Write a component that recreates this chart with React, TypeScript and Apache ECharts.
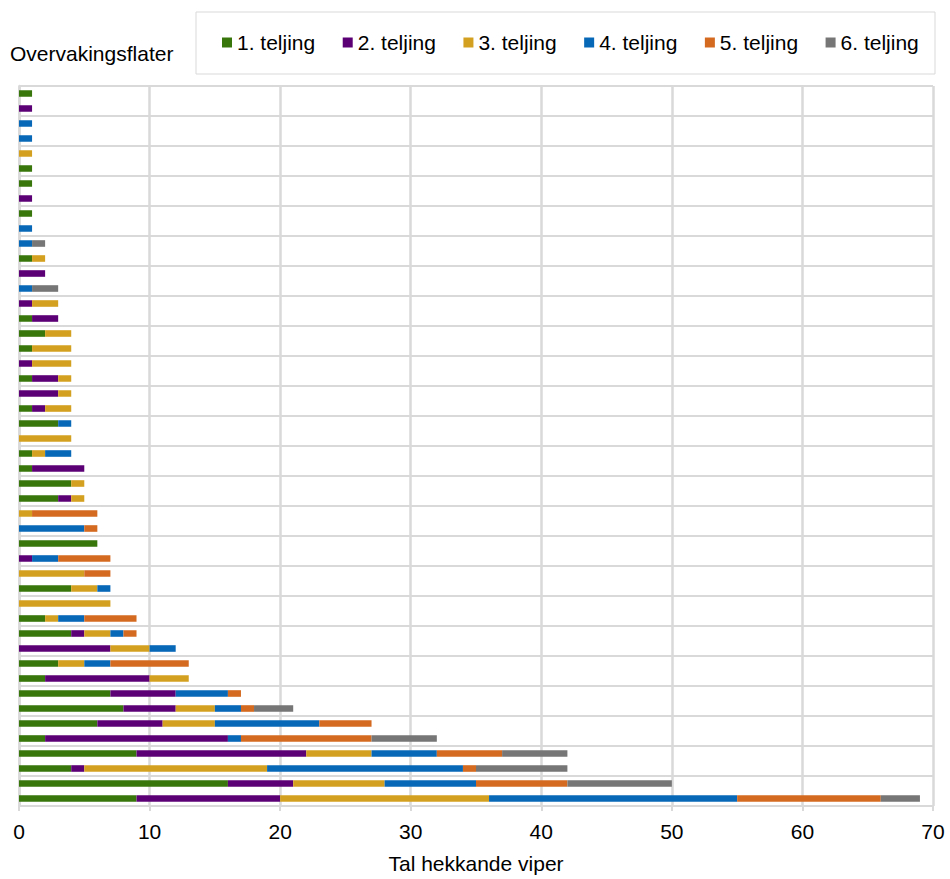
import React, { useEffect, useRef } from "react";
import * as echarts from "echarts";

const categories = [
  "F1","F2","F3","F4","F5","F6","F7","F8","F9","F10","F11","F12",
  "F13","F14","F15","F16","F17","F18","F19","F20","F21","F22","F23","F24",
  "F25","F26","F27","F28","F29","F30","F31","F32","F33","F34","F35","F36",
  "F37","F38","F39","F40","F41","F42","F43","F44","F45","F46","F47","F48",
];

const seriesNames = ["1. teljing", "2. teljing", "3. teljing", "4. teljing", "5. teljing", "6. teljing"];
const colors = ["#38760c", "#5c0076", "#d4a020", "#0868b8", "#d46a20", "#767676"];

const teljing1 = [1,0,0,0,0,1,1,0,1,0,0,1, 0,0,0,1,2,1,0,1,0,1,3,0, 1,1,4,3,0,0,6,0,0,4,0,2, 4,0,3,2,7,8,6,2,9,4,16,9];
const teljing2 = [0,1,0,0,0,0,0,1,0,0,0,0, 2,0,1,2,0,0,1,2,3,1,0,0, 0,4,0,1,0,0,0,1,0,0,0,0, 1,7,0,8,5,4,5,14,13,1,5,11];
const teljing3 = [0,0,0,0,1,0,0,0,0,0,0,1, 0,0,2,0,2,3,3,1,1,2,0,4, 1,0,1,1,1,0,0,0,5,2,7,1, 2,3,2,3,0,3,4,0,5,14,7,16];
const teljing4 = [0,0,1,1,0,0,0,0,0,1,1,0, 0,1,0,0,0,0,0,0,0,0,1,0, 2,0,0,0,0,5,0,2,0,1,0,2, 1,2,2,0,4,2,8,1,5,15,7,19];
const teljing5 = [0,0,0,0,0,0,0,0,0,0,0,0, 0,0,0,0,0,0,0,0,0,0,0,0, 0,0,0,0,5,1,0,4,2,0,0,4, 1,0,6,0,1,1,4,10,5,1,7,11];
const teljing6 = [0,0,0,0,0,0,0,0,0,0,1,0, 0,2,0,0,0,0,0,0,0,0,0,0, 0,0,0,0,0,0,0,0,0,0,0,0, 0,0,0,0,0,3,0,5,5,7,8,3];

const allSeries = [teljing1, teljing2, teljing3, teljing4, teljing5, teljing6];

const xTicks = { min: 0, max: 70, interval: 10 };
const FONT = "Liberation Sans, Arial, sans-serif";
const FS = 21;

export default function App() {
  const ref = useRef<HTMLDivElement>(null);
  useEffect(() => {
    if (!ref.current) return;
    const chart = echarts.init(ref.current, undefined, { renderer: "svg" });
    chart.setOption({
      animation: false,
      backgroundColor: "#ffffff",
      textStyle: { fontFamily: FONT },
      grid: { left: 19, right: 17, top: 86, bottom: 66, containLabel: false },
      graphic: [
        {
          type: "rect",
          shape: { x: 196, y: 12, width: 739, height: 62 },
          style: { fill: "#ffffff", stroke: "#d9d9d9", lineWidth: 1 },
          z: 0,
        },
        {
          type: "text",
          x: 10,
          y: 53,
          style: {
            text: "Overvakingsflater",
            font: `${FS}px ${FONT}`,
            fill: "#000000",
            verticalAlign: "middle",
          },
        },
      ],
      legend: {
        left: 222,
        top: 32,
        padding: 0,
        itemWidth: 10,
        itemHeight: 10,
        itemGap: 27.5,
        icon: "rect",
        textStyle: { fontSize: FS, color: "#000000", fontFamily: FONT },
        data: seriesNames,
      },
      xAxis: {
        type: "value",
        min: xTicks.min,
        max: xTicks.max,
        interval: xTicks.interval,
        name: "Tal hekkande viper",
        nameLocation: "middle",
        nameGap: 47,
        nameTextStyle: { fontSize: FS, color: "#000000", fontFamily: FONT },
        axisLine: { show: true, lineStyle: { color: "#d9d9d9", width: 2 } },
        axisTick: { show: true, length: 5, lineStyle: { color: "#d9d9d9", width: 2 } },
        axisLabel: { fontSize: FS, color: "#000000", margin: 15, fontFamily: FONT },
        splitLine: { show: true, lineStyle: { color: "#d9d9d9", width: 2.5 } },
      },
      yAxis: {
        type: "category",
        inverse: true,
        data: categories,
        axisLine: { show: true, lineStyle: { color: "#d9d9d9", width: 2.5 } },
        axisTick: { show: false },
        axisLabel: { show: false },
        splitLine: { show: true, lineStyle: { color: "#d9d9d9", width: 2 } },
      },
      series: allSeries.map((d, i) => ({
        name: seriesNames[i],
        type: "bar",
        stack: "total",
        data: d,
        barWidth: "44%",
        itemStyle: { color: colors[i] },
      })),
    });
    return () => chart.dispose();
  }, []);
  return <div ref={ref} style={{ width: 950, height: 879, position: "absolute", left: 0, top: 0 }} />;
}
